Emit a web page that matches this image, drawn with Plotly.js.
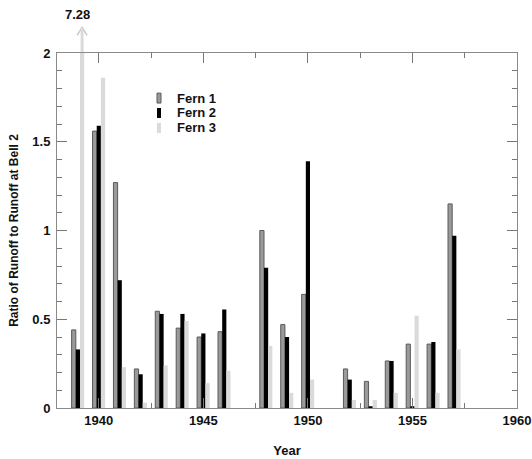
<!DOCTYPE html>
<html>
<head>
<meta charset="utf-8">
<script src="https://cdn.plot.ly/plotly-3.0.1.min.js"></script>
<style>html,body{margin:0;padding:0;background:#fff;}#chart{width:532px;height:459px;}</style>
</head>
<body>
<div id="chart"></div>
<script>
// Data
var years = [1939, 1940, 1941, 1942, 1943, 1944, 1945, 1946, 1948, 1949, 1950, 1952, 1953, 1954, 1955, 1956, 1957];
var fern1 = [0.44, 1.56, 1.27, 0.22, 0.545, 0.45, 0.40, 0.43, 1.00, 0.47, 0.64, 0.22, 0.15, 0.265, 0.36, 0.36, 1.15];
var fern2 = [0.33, 1.59, 0.72, 0.19, 0.53, 0.53, 0.42, 0.555, 0.79, 0.40, 1.39, 0.16, 0.01, 0.265, 0.01, 0.372, 0.97];
var fern3 = [7.28, 1.86, 0.23, 0.03, 0.24, 0.49, 0.14, 0.21, 0.35, 0.085, 0.16, 0.045, 0.045, 0.085, 0.52, 0.085, 0.33];
var seriesNames = ["Fern 1", "Fern 2", "Fern 3"];
var xTickLabels = ["1940", "1945", "1950", "1955", "1960"];
var xTickVals = [1940, 1945, 1950, 1955, 1960];

var FONT = "Liberation Sans, Arial, Helvetica, sans-serif";
var c1 = "#9a9a9a", c1line = "#5a5a5a", c2 = "#000000", c3 = "#dadada";
var groupGap = 0.4;
var barW = (1 - groupGap) / 3;

var traces = [
  {type: "bar", x: years, y: fern1, name: seriesNames[0], marker: {color: c1, line: {color: c1line, width: 1}}, showlegend: false},
  {type: "bar", x: years, y: fern2, name: seriesNames[1], marker: {color: c2, line: {width: 0}}, showlegend: false},
  {type: "bar", x: years, y: fern3, name: seriesNames[2], marker: {color: c3, line: {width: 0}}, showlegend: false}
];

// Off-scale value marker for the first Fern 3 bar
var offIdx = fern3.findIndex(function(v){ return v > 2; });
var offX = years[offIdx] + barW;

var axisCommon = {
  showgrid: false, zeroline: false, showline: true, linecolor: "#8a8a8a", linewidth: 1,
  mirror: "ticks", ticks: "inside", ticklen: 10, tickwidth: 1, tickcolor: "#777",
  tickfont: {family: FONT, size: 13, color: "#111", weight: "bold"}
};

var layout = {
  width: 532, height: 459,
  margin: {l: 57, r: 15, t: 53, b: 51},
  paper_bgcolor: "#fff", plot_bgcolor: "#fff",
  barmode: "group", bargap: groupGap, bargroupgap: 0,
  xaxis: Object.assign({}, axisCommon, {
    range: [1938, 1960], tickmode: "array", tickvals: xTickVals, ticktext: xTickLabels,
    minor: {dtick: 2.5, tick0: 1940, ticks: "inside", ticklen: 5, tickcolor: "#777", tickwidth: 1, showgrid: false},
    title: {text: "Year", font: {family: FONT, size: 13, color: "#111", weight: "bold"}, standoff: 19}
  }),
  yaxis: Object.assign({}, axisCommon, {
    range: [0, 2], tickmode: "linear", tick0: 0, dtick: 0.5, ticklabelstandoff: 3,
    minor: {dtick: 0.1, ticks: "inside", ticklen: 5, tickcolor: "#777", tickwidth: 1, showgrid: false},
    title: {text: "Ratio of Runoff to Runoff at Bell 2", font: {family: FONT, size: 12, color: "#111", weight: "bold"}, standoff: 11}
  }),
  annotations: [
    {xref: "x", yref: "paper", x: offX, y: 1.072, ax: 0, ay: 26, axref: "pixel", ayref: "pixel",
     showarrow: true, arrowhead: 0, arrowwidth: 3, arrowcolor: c3, text: ""},
    {xref: "x", yref: "paper", x: years[offIdx], y: 1.108, text: String(fern3[offIdx]), showarrow: false,
     xanchor: "center", yanchor: "middle", font: {family: FONT, size: 13, color: "#111", weight: "bold"}},
    {xref: "paper", yref: "paper", x: 0.2565, y: 0.873, text: seriesNames[0], showarrow: false, xanchor: "left", yanchor: "middle",
     font: {family: FONT, size: 13, color: "#111", weight: "bold"}},
    {xref: "paper", yref: "paper", x: 0.2565, y: 0.831, text: seriesNames[1], showarrow: false, xanchor: "left", yanchor: "middle",
     font: {family: FONT, size: 13, color: "#111", weight: "bold"}},
    {xref: "paper", yref: "paper", x: 0.2565, y: 0.789, text: seriesNames[2], showarrow: false, xanchor: "left", yanchor: "middle",
     font: {family: FONT, size: 13, color: "#111", weight: "bold"}}
  ],
  shapes: [
    {type: "path", xref: "x", yref: "paper", xsizemode: "pixel", ysizemode: "pixel", xanchor: offX, yanchor: 1.072,
     path: "M-5,-8 L0,0 L5,-8", line: {color: "#c8c8c8", width: 1.5}},
    {type: "rect", xref: "paper", yref: "paper", x0: 0.2174, x1: 0.2261, y0: 0.859, y1: 0.887, fillcolor: c1, line: {color: c1line, width: 1}},
    {type: "rect", xref: "paper", yref: "paper", x0: 0.2174, x1: 0.2261, y0: 0.817, y1: 0.845, fillcolor: c2, line: {width: 0}},
    {type: "rect", xref: "paper", yref: "paper", x0: 0.2174, x1: 0.2261, y0: 0.775, y1: 0.803, fillcolor: c3, line: {width: 0}}
  ]
};

Plotly.newPlot("chart", traces, layout, {displayModeBar: false, staticPlot: true});
</script>
</body>
</html>
